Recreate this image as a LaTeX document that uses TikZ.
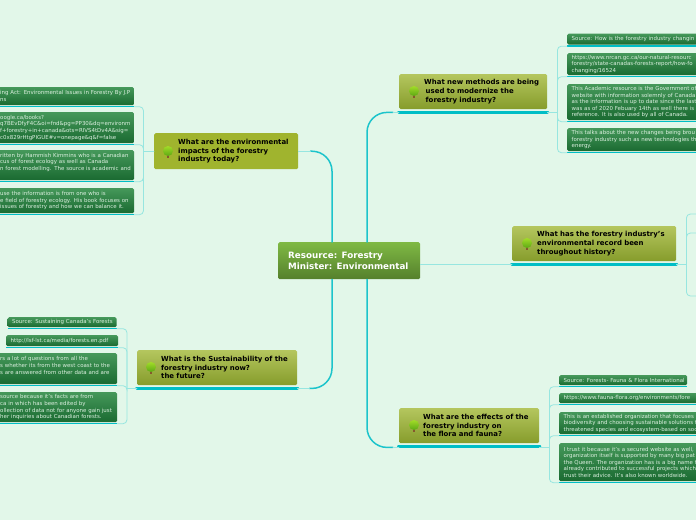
\documentclass[tikz,border=0pt]{standalone}
\usepackage{fontspec}
\setmainfont{DejaVu Sans}
\usetikzlibrary{calc}
\definecolor{paper}{HTML}{E2F7E9}
\definecolor{trunkcolor}{HTML}{1CC4CB}
\definecolor{twigcolor}{HTML}{97E6E0}
\definecolor{barcolor}{HTML}{00BEC6}
\definecolor{leaftop}{HTML}{45985A}
\definecolor{leafbottom}{HTML}{1A6A31}
\definecolor{olivetop}{HTML}{B4C65E}
\definecolor{olivebottom}{HTML}{869C2B}
\definecolor{olive}{HTML}{A0B42E}
\definecolor{centretop}{HTML}{7FB944}
\definecolor{centrebottom}{HTML}{55802C}
\definecolor{leaftext}{HTML}{DCF0E0}
\definecolor{crowntop}{HTML}{A2DC28}
\definecolor{crownbottom}{HTML}{5CA814}
\begin{document}
\begin{tikzpicture}
			[x=1pt,y=-1pt,line cap=round,
			%Styles
			box/.style={anchor=north west,rounded corners=1.5pt,inner sep=0pt,align=left},
			pad/.style={execute at begin node={\leftskip=#1pt\relax}},
			central/.style={box,pad=10,top color=centretop,bottom color=centrebottom,text=white,font=\bfseries\fontsize{8.75}{10.8}\selectfont},
			main topic/.style={box,pad=25,top color=olivetop,bottom color=olivebottom,text=black,font=\bfseries\fontsize{6.95}{8.6}\selectfont},
			leaf/.style={box,pad=4.5,top color=leaftop,bottom color=leafbottom,text=leaftext,font=\fontsize{5.45}{6.6}\selectfont},
			trunk/.style={trunkcolor,line width=1.5pt,rounded corners=20pt},
			twig/.style={twigcolor,line width=.8pt},
			bracket/.style={twigcolor,line width=.8pt,rounded corners=4pt},
			main bar/.style={barcolor,line width=3.8pt},
			leaf bar/.style={barcolor,line width=1.5pt,line cap=butt},
			tree/.pic={
				\fill[brown!70!black] (-.6,0) rectangle (.6,6);
				\shade[top color=crowntop,bottom color=crownbottom] (0,-1) circle (5);
			}
			]
			\useasboundingbox (0,0) rectangle (696,520);
			\fill[paper] (0,0) rectangle (696,520);
			\clip (0,0) rectangle (696,520);

			%The graphic
			\node [central,text width=142pt,minimum height=37pt] (centre) at (278,242) {Resource: Forestry\\Minister: Environmental};
			\node [main topic,text width=148pt,minimum height=35pt] (methods) at (399,74) {What new methods are being\\ \hspace*{1.5pt}used to modernize the\\ \hspace*{1.5pt}forestry industry?};
			\node [main topic,text width=164pt,minimum height=35pt] (record) at (512,226) {What has the forestry industry's\\environmental record been\\throughout history?};
			\node [main topic,pad=24,text width=140pt,minimum height=35pt] (effects) at (399,408) {What are the effects of the\\forestry industry on\\the flora and fauna?};
			\node [main topic,pad=24,top color=olive,bottom color=olive,text width=144pt,minimum height=36pt] (impacts) at (154,133) {What are the environmental\\impacts of the forestry\\industry today?};
			\node [main topic,pad=24,text width=160pt,minimum height=35pt] (sustain) at (137,350) {What is the Sustainability of the\\forestry industry now?\\the future?};

			\pic at (414,92) {tree};
			\pic at (527,244) {tree};
			\pic at (414,426) {tree};
			\pic at (168,152) {tree};
			\pic at (151,368) {tree};

			%top right leaves
			\node [leaf,text width=150pt,minimum height=11pt] (how) at (567,33.5) {Source: How is the forestry industry changin};
			\node [leaf,text width=150pt,minimum height=22pt] (nrcan) at (567,53) {https://www.nrcan.gc.ca/our-natural-resourc\\forestry/state-canadas-forests-report/how-fo\\changing/16524};
			\node [leaf,text width=150pt,minimum height=36pt] (academic) at (567,84) {This Academic resource is the Government of\\website with information solemnly of Canada\\as the information is up to date since the last\\was as of 2020 Febuary 14th as well there is\\reference. It is also used by all of Canada.};
			\node [leaf,text width=150pt,minimum height=23pt] (changes) at (567,128) {This talks about the new changes being brou\\forestry industry such as new technologies th\\energy.};

			%top left leaves
			\node [leaf,pad=5,text width=139pt,minimum height=18pt] (act) at (-5,87) {ing Act: Environmental Issues in Forestry By J.P\\ns};
			\node [leaf,pad=5,text width=139pt,minimum height=31pt] (google) at (-5,112) {oogle.ca/books?\\q7BEvDfyF4C\&oi=fnd\&pg=PP30\&dq=environm\\f+forestry+in+canada\&ots=RIVS4tDv4A\&sig=\\c0x829rHtgPIGUE\#v=onepage\&q\&f=false};
			\node [leaf,pad=5,text width=139pt,minimum height=30pt] (written) at (-5,150) {ritten by Hammish Kimmins who is a Canadian\\cus of forest ecology as well as Canada\\n forest modelling. The source is academic and\\\ };
			\node [leaf,pad=5,text width=139pt,minimum height=25pt] (because) at (-5,188) {use the information is from one who is\\e field of forestry ecology. His book focuses on\\issues of forestry and how we can balance it.};

			%bottom left leaves
			\node [leaf,text width=109pt,minimum height=10pt] (sustaining) at (7.5,317) {Source: Sustaining Canada's Forests};
			\node [leaf,text width=112pt,minimum height=11pt] (lsf) at (6,335) {http://lsf-lst.ca/media/forests.en.pdf};
			\node [leaf,pad=5,text width=122pt,minimum height=31pt] (questions) at (-5,353) {rs a lot of questions from all the\\s whether its from the west coast to the\\s are answered from other data and are\\\ };
			\node [leaf,pad=5,text width=122pt,minimum height=30pt] (facts) at (-5,392) {source because it's facts are from\\ca in which has been edited by\\ollection of data not for anyone gain just\\her inquiries about Canadian forests.};

			%bottom right leaves
			\node [leaf,text width=128pt,minimum height=10pt] (fauna) at (559,375) {Source: Forests- Fauna \& Flora International};
			\node [leaf,text width=150pt,minimum height=10pt] (fff) at (559,393) {https://www.fauna-flora.org/environments/fore};
			\node [leaf,text width=150pt,minimum height=22pt] (established) at (559,412) {This is an established organization that focuses\\biodiversity and choosing sustainable solutions t\\threatened species and ecosystem-based on soc};
			\node [leaf,text width=150pt,minimum height=38pt] (trust) at (559,443) {I trust it because it's a secured website as well,\\organization itself is supported by many big pat\\the Queen. The organization has is a big name t\\already contributed to successful projects which\\trust their advice. It's also known worldwide.};

			%bars under the boxes
			\foreach \n in {methods,record,effects,sustain}
				\draw[main bar] ($(\n.south west)+(0,3)$) -- ($(\n.south east)+(0,3)$);
			\foreach \n in {how,nrcan,academic,changes,act,google,written,because,sustaining,lsf,questions,facts,fauna,fff,established,trust}
				\draw[leaf bar] ($(\n.south west)+(0,1.3)$) -- ($(\n.south east)+(0,1.3)$);

			%trunks from the centre
			\coordinate (centre ne) at ($(centre.north west)+(89,0)$);
			\coordinate (centre nw) at ($(centre.north west)+(54,0)$);
			\coordinate (centre se) at ($(centre.south west)+(89,0)$);
			\coordinate (centre sw) at ($(centre.south west)+(54,0)$);
			\coordinate (methods end) at ($(methods.south west)+(-6,3)$);
			\coordinate (effects end) at ($(effects.south west)+(-6,4)$);
			\coordinate (impacts end) at ($(impacts.east)+(12,0)$);
			\coordinate (sustain end) at ($(sustain.south east)+(12,3)$);
			\draw[trunk] (centre ne) |- (methods end);
			\draw[trunk] (centre se) |- (effects end);
			\draw[trunk] (centre nw) |- (impacts end);
			\draw[trunk] (centre sw) |- (sustain end);
			\draw[twig] (methods end) -- ($(methods.south west)+(0,3)$);
			\draw[twig] (effects end) -- ($(effects.south west)+(0,4)$);
			\draw[twig] (impacts end) -- (impacts.east);
			\draw[twig] (sustain end) -- ($(sustain.south east)+(0,3)$);

			%brackets to the leaves
			\coordinate (methods hub) at ($(methods.south east)+(10,3)$);
			\draw[twig] ($(methods.south east)+(0,3)$) -- (methods hub);
			\foreach \n in {how,nrcan,academic,changes}
				\draw[bracket] (methods hub) |- ($(\n.south west)+(0,1.3)$);

			\coordinate (impacts hub) at ($(impacts.west)+(-10.5,0)$);
			\draw[twig] (impacts.west) -- (impacts hub);
			\foreach \n in {act,google,written,because}
				\draw[bracket] (impacts hub) |- ($(\n.south east)+(0,1.3)$);

			\coordinate (sustain hub) at ($(sustain.south west)+(-10,3)$);
			\draw[twig] ($(sustain.south west)+(0,3)$) -- (sustain hub);
			\foreach \n in {sustaining,lsf,questions,facts}
				\draw[bracket] (sustain hub) |- ($(\n.south east)+(0,1.3)$);

			\coordinate (effects hub) at ($(effects.south east)+(10,4)$);
			\draw[twig] ($(effects.south east)+(0,4)$) -- (effects hub);
			\foreach \n in {fauna,fff,established,trust}
				\draw[bracket] (effects hub) |- ($(\n.south west)+(0,1.3)$);

			\coordinate (record hub) at ($(record.south east)+(10,3)$);
			\coordinate (record a) at (700,214);
			\coordinate (record b) at (700,233);
			\coordinate (record c) at (700,296);
			\draw[twig] (centre.east |- record hub) -- ($(record.south west)+(0,3)$);
			\draw[twig] ($(record.south east)+(0,3)$) -- (record hub);
			\foreach \n in {a,b,c}
				\draw[bracket] (record hub) |- (record \n);
		\end{tikzpicture}
\end{document}
